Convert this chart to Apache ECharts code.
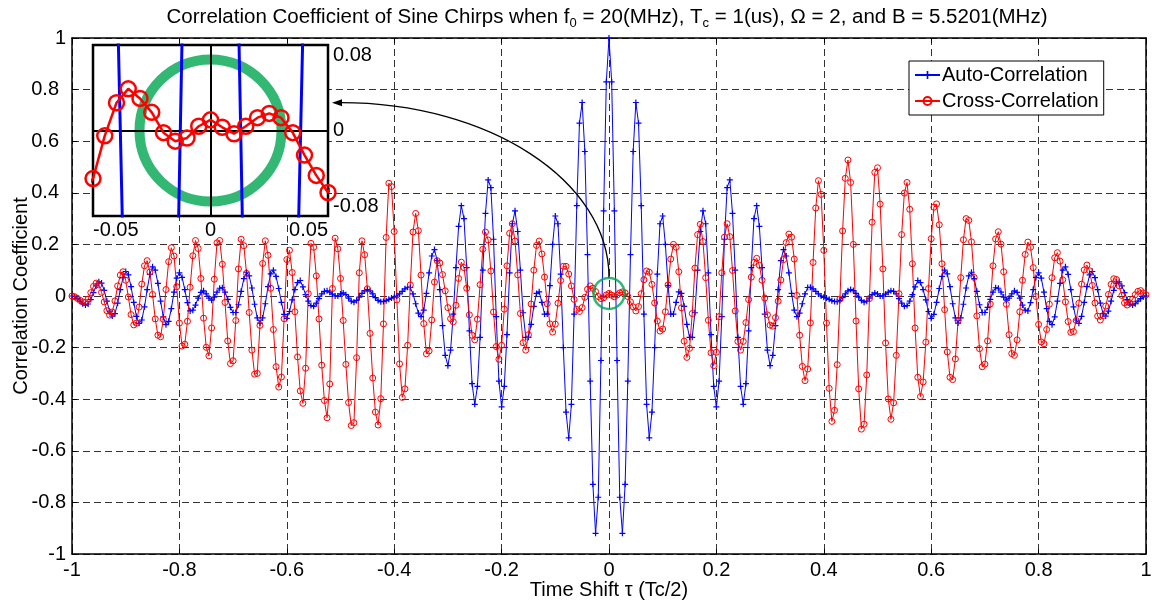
<!DOCTYPE html>
<html>
<head>
<meta charset="utf-8">
<script src="https://cdn.jsdelivr.net/npm/echarts@6/dist/echarts.min.js"></script>
<style>
  html, body { margin: 0; padding: 0; background: #fff; }
  #chart { width: 1152px; height: 602px; }
</style>
</head>
<body>
<div id="chart"></div>
<script>
// sample grid of the time shift axis (Tc/2 units)
const tauStart = -1
const tauStep = 0.005

// blue curve, one row = 10 samples, row start given in the comment
const autoCorr = [
  0.0, -0.003, -0.01, -0.02, -0.03, -0.035, -0.031, -0.014, 0.013, 0.039, // -1.00
  0.055, 0.05, 0.022, -0.02, -0.059, -0.078, -0.068, -0.028, 0.025, 0.071, // -0.95
  0.095, 0.082, 0.036, -0.025, -0.079, -0.106, -0.093, -0.042, 0.025, 0.084, // -0.90
  0.113, 0.10, 0.049, -0.02, -0.081, -0.111, -0.098, -0.049, 0.015, 0.069, // -0.85
  0.09, 0.072, 0.025, -0.026, -0.058, -0.055, -0.035, -0.008, 0.014, 0.02, // -0.80
  0.008, -0.008, -0.016, -0.004, 0.015, 0.03, 0.032, 0.015, -0.013, -0.044, // -0.75
  -0.064, -0.064, -0.034, 0.018, 0.067, 0.092, 0.078, 0.031, -0.032, -0.085, // -0.70
  -0.105, -0.085, -0.03, 0.036, 0.086, 0.10, 0.076, 0.029, -0.025, -0.071, // -0.65
  -0.087, -0.06, -0.015, 0.025, 0.052, 0.06, 0.035, 0.005, -0.02, -0.037, // -0.60
  -0.04, -0.028, -0.01, 0.008, 0.018, 0.02, 0.015, 0.007, 0.0, 0.0, // -0.55
  0.008, 0.012, 0.005, -0.008, -0.02, -0.024, -0.017, -0.004, 0.01, 0.021, // -0.50
  0.025, 0.02, 0.008, -0.006, -0.017, -0.022, -0.021, -0.018, -0.013, -0.008, // -0.45
  -0.005, 0.0, 0.008, 0.018, 0.028, 0.034, 0.033, 0.008, -0.03, -0.066, // -0.40
  -0.08, -0.055, 0.01, 0.09, 0.155, 0.18, 0.137, 0.025, -0.115, -0.23, // -0.35
  -0.27, -0.21, -0.07, 0.11, 0.27, 0.35, 0.30, 0.11, -0.135, -0.34, // -0.30
  -0.42, -0.35, -0.16, 0.10, 0.32, 0.45, 0.42, 0.22, -0.08, -0.33, // -0.25
  -0.43, -0.35, -0.15, 0.09, 0.28, 0.33, 0.25, 0.10, -0.065, -0.16, // -0.20
  -0.16, -0.11, -0.04, 0.01, 0.016, -0.025, -0.07, -0.07, 0.04, 0.20, // -0.15
  0.31, 0.28, 0.085, -0.20, -0.45, -0.55, -0.42, -0.07, 0.35, 0.67, // -0.10
  0.75, 0.56, 0.16, -0.33, -0.73, -0.92, -0.78, -0.25, 0.33, 0.83, // -0.05
  1.00, 0.83, 0.33, -0.25, -0.78, -0.92, -0.73, -0.33, 0.16, 0.56, // 0.00
  0.75, 0.67, 0.35, -0.07, -0.42, -0.55, -0.45, -0.20, 0.085, 0.28, // 0.05
  0.31, 0.20, 0.04, -0.07, -0.07, -0.025, 0.016, 0.01, -0.04, -0.11, // 0.10
  -0.16, -0.16, -0.065, 0.10, 0.25, 0.33, 0.28, 0.09, -0.15, -0.35, // 0.15
  -0.43, -0.33, -0.08, 0.22, 0.42, 0.45, 0.32, 0.10, -0.16, -0.35, // 0.20
  -0.42, -0.34, -0.135, 0.11, 0.30, 0.35, 0.27, 0.11, -0.07, -0.21, // 0.25
  -0.27, -0.23, -0.115, 0.025, 0.137, 0.18, 0.155, 0.09, 0.01, -0.055, // 0.30
  -0.08, -0.066, -0.03, 0.008, 0.033, 0.034, 0.028, 0.018, 0.008, 0.0, // 0.35
  -0.005, -0.008, -0.013, -0.018, -0.021, -0.022, -0.017, -0.006, 0.008, 0.02, // 0.40
  0.025, 0.021, 0.01, -0.004, -0.017, -0.024, -0.02, -0.008, 0.005, 0.012, // 0.45
  0.008, 0.0, 0.0, 0.007, 0.015, 0.02, 0.018, 0.008, -0.01, -0.028, // 0.50
  -0.04, -0.037, -0.02, 0.005, 0.035, 0.06, 0.052, 0.025, -0.015, -0.06, // 0.55
  -0.087, -0.071, -0.025, 0.029, 0.076, 0.10, 0.086, 0.036, -0.03, -0.085, // 0.60
  -0.105, -0.085, -0.032, 0.031, 0.078, 0.092, 0.067, 0.018, -0.034, -0.064, // 0.65
  -0.064, -0.044, -0.013, 0.015, 0.032, 0.03, 0.015, -0.004, -0.016, -0.008, // 0.70
  0.008, 0.02, 0.014, -0.008, -0.035, -0.055, -0.058, -0.026, 0.025, 0.072, // 0.75
  0.09, 0.069, 0.015, -0.049, -0.098, -0.111, -0.081, -0.02, 0.049, 0.10, // 0.80
  0.113, 0.084, 0.025, -0.042, -0.093, -0.106, -0.079, -0.025, 0.036, 0.082, // 0.85
  0.095, 0.071, 0.025, -0.028, -0.068, -0.078, -0.059, -0.02, 0.022, 0.05, // 0.90
  0.055, 0.039, 0.013, -0.014, -0.031, -0.035, -0.03, -0.02, -0.01, -0.003, // 0.95
  0.0 // 1.00
]

// red curve, same sample grid
const crossCorr = [
  0, -0.003, -0.009, -0.017, -0.023, -0.025, -0.012, 0.013, 0.037, 0.05, // -1.00
  0.043, 0.014, -0.023, -0.057, -0.074, -0.062, -0.019, 0.039, 0.081, 0.094, // -0.95
  0.061, -0.004, -0.072, -0.112, -0.105, -0.043, 0.046, 0.117, 0.137, 0.093, // -0.90
  0.006, -0.089, -0.152, -0.158, -0.09, 0.025, 0.133, 0.187, 0.155, 0.036, // -0.85
  -0.105, -0.194, -0.187, -0.098, 0.034, 0.156, 0.215, 0.184, 0.068, -0.086, // -0.80
  -0.199, -0.232, -0.124, 0.065, 0.206, 0.215, 0.123, -0.025, -0.174, -0.262, // -0.75
  -0.251, -0.095, 0.105, 0.22, 0.195, 0.088, -0.064, -0.21, -0.303, -0.30, // -0.70
  -0.114, 0.126, 0.214, 0.158, 0.03, -0.13, -0.274, -0.353, -0.314, -0.088, // -0.65
  0.141, 0.177, 0.091, -0.061, -0.236, -0.368, -0.416, -0.28, 0.009, 0.204, // -0.60
  0.189, 0.078, -0.089, -0.268, -0.405, -0.472, -0.341, 0.029, 0.224, 0.183, // -0.55
  0.068, -0.095, -0.265, -0.413, -0.502, -0.491, -0.239, 0.09, 0.214, 0.16, // -0.50
  0.028, -0.145, -0.318, -0.45, -0.50, -0.398, -0.108, 0.227, 0.437, 0.424, // -0.45
  0.25, -0.015, -0.263, -0.393, -0.36, -0.191, 0.043, 0.248, 0.32, 0.253, // -0.40
  0.081, -0.107, -0.224, -0.213, -0.093, 0.054, 0.137, 0.128, 0.083, 0.02, // -0.35
  -0.045, -0.088, -0.10, -0.036, 0.068, 0.131, 0.11, 0.03, -0.073, -0.152, // -0.30
  -0.17, -0.09, 0.044, 0.181, 0.248, 0.217, 0.097, -0.062, -0.196, -0.245, // -0.25
  -0.191, -0.051, 0.117, 0.243, 0.28, 0.213, 0.082, -0.068, -0.181, -0.21, // -0.20
  -0.15, -0.031, 0.10, 0.196, 0.213, 0.163, 0.073, -0.03, -0.108, -0.14, // -0.15
  -0.109, -0.028, 0.06, 0.115, 0.115, 0.085, 0.039, -0.013, -0.052, -0.06, // -0.10
  -0.045, -0.005, 0.026, 0.039, 0.03, 0.017, -0.002, -0.01, -0.007, 0.004, // -0.05
  0.01, 0.003, -0.003, 0.004, 0.012, 0.016, 0.012, -0.002, -0.023, -0.042, // 0.00
  -0.058, -0.041, 0.009, 0.063, 0.097, 0.092, 0.045, -0.027, -0.097, -0.136, // 0.05
  -0.128, -0.061, 0.043, 0.143, 0.20, 0.189, 0.094, -0.046, -0.175, -0.238, // 0.10
  -0.203, -0.068, 0.108, 0.238, 0.278, 0.211, 0.071, -0.094, -0.22, -0.27, // 0.15
  -0.218, -0.08, 0.09, 0.228, 0.28, 0.23, 0.099, -0.058, -0.176, -0.21, // 0.20
  -0.176, -0.103, -0.014, 0.073, 0.13, 0.146, 0.119, 0.061, -0.008, -0.073, // 0.25
  -0.113, -0.117, -0.084, -0.02, 0.062, 0.141, 0.207, 0.24, 0.228, 0.143, // 0.30
  0.002, -0.152, -0.273, -0.328, -0.283, -0.104, 0.13, 0.341, 0.447, 0.394, // 0.35
  0.177, -0.105, -0.358, -0.486, -0.443, -0.266, -0.012, 0.252, 0.456, 0.527, // 0.40
  0.44, 0.20, -0.097, -0.36, -0.516, -0.497, -0.306, -0.01, 0.286, 0.479, // 0.45
  0.497, 0.356, 0.105, -0.182, -0.399, -0.478, -0.414, -0.23, 0.009, 0.238, // 0.50
  0.399, 0.44, 0.336, 0.125, -0.124, -0.315, -0.39, -0.333, -0.179, 0.029, // 0.55
  0.222, 0.344, 0.357, 0.276, 0.125, -0.053, -0.217, -0.315, -0.324, -0.244, // 0.60
  -0.096, 0.071, 0.218, 0.30, 0.293, 0.21, 0.072, -0.077, -0.204, -0.274, // 0.65
  -0.264, -0.174, -0.031, 0.117, 0.221, 0.249, 0.201, 0.094, -0.032, -0.15, // 0.70
  -0.223, -0.23, -0.17, -0.061, 0.061, 0.161, 0.209, 0.189, 0.11, -0.002, // 0.75
  -0.11, -0.178, -0.185, -0.13, -0.032, 0.071, 0.148, 0.168, 0.135, 0.063, // 0.80
  -0.023, -0.099, -0.141, -0.138, -0.095, -0.028, 0.046, 0.101, 0.12, 0.098, // 0.85
  0.041, -0.027, -0.078, -0.093, -0.076, -0.039, 0.006, 0.045, 0.067, 0.064, // 0.90
  0.039, 0.002, -0.027, -0.035, -0.027, -0.012, 0.005, 0.018, 0.021, 0.012, // 0.95
  0.005 // 1.00
]

// zoom marks: small ring on the main plot and its enlarged copy in the inset
const ringMain = [[0, 0.01]]
const ringInset = [[0, 0]]

const font = '"Liberation Sans", Arial, Helvetica, sans-serif'
const plusPath = 'path://M4,0H6V4H10V6H6V10H4V6H0V4H4Z'
const green = '#00a651'

const tau = autoCorr.map((v, i) => +(tauStart + i * tauStep).toFixed(3))
const autoData = autoCorr.map((v, i) => [tau[i], v])
const crossData = crossCorr.map((v, i) => [tau[i], v])

const chart = echarts.init(document.getElementById('chart'))

const gridLine = { show: true, lineStyle: { color: '#333', type: [7, 4], width: 1 } }
const tickIn = { show: true, inside: true, length: 5, lineStyle: { color: '#000' } }
const blackLine = { show: true, onZero: false, lineStyle: { color: '#000', width: 1.5 } }

// positive decimal labels sit a little further from the axis in the original
function yLabel (v) {
  const s = String(+v.toFixed(2))
  return (v > 0 && v < 1) ? '{p|' + s + '}' : s
}

const option = {
  animation: false,
  backgroundColor: '#fff',
  textStyle: { fontFamily: font },
  title: {
    text: 'Correlation Coefficient of Sine Chirps when f{sub|0} = 20(MHz), T{sub|c} = 1(us), Ω = 2, and B = 5.5201(MHz)',
    left: 602,
    top: -1,
    textAlign: 'center',
    textStyle: {
      fontFamily: font,
      fontSize: 20.5,
      fontWeight: 'normal',
      color: '#000',
      lineHeight: 26,
      rich: {
        sub: { fontFamily: font, fontSize: 13, color: '#000', verticalAlign: 'bottom', lineHeight: 13 }
      }
    }
  },
  legend: {
    data: ['Auto-Correlation', 'Cross-Correlation'],
    orient: 'vertical',
    left: 909,
    top: 61,
    backgroundColor: '#fff',
    borderColor: '#000',
    borderWidth: 1,
    borderRadius: 0,
    padding: [4, 5, 4, 5],
    itemGap: 6,
    itemWidth: 25,
    itemHeight: 10,
    textStyle: { fontFamily: font, fontSize: 20, color: '#000', padding: [0, 0, 0, -3] },
    z: 10
  },
  grid: [
    { left: 72, right: 6, top: 38, bottom: 48, outerBoundsMode: 'none' },
    { left: 93, top: 45, width: 235, height: 171, outerBoundsMode: 'none', show: true, backgroundColor: '#fff', borderColor: '#000', borderWidth: 2.5, z: 3 }
  ],
  xAxis: [
    {
      type: 'value', gridIndex: 0, min: -1, max: 1, interval: 0.2, position: 'bottom',
      name: 'Time Shift τ (Tc/2)', nameLocation: 'middle', nameGap: 26, nameMoveOverlap: false,
      nameTextStyle: { fontFamily: font, fontSize: 20, color: '#000' },
      axisLine: blackLine, axisTick: tickIn,
      axisLabel: { color: '#000', fontSize: 20, margin: 6 },
      splitLine: gridLine
    },
    {
      type: 'value', gridIndex: 0, min: -1, max: 1, interval: 0.2, position: 'top',
      axisLine: blackLine, axisTick: tickIn, axisLabel: { show: false }, splitLine: { show: false }
    },
    {
      type: 'value', gridIndex: 1, min: -0.05, max: 0.05, interval: 0.05, position: 'bottom', z: 5,
      axisLine: { show: false, onZero: false }, axisTick: { show: false },
      axisLabel: { color: '#000', fontSize: 20, margin: 4, alignMinLabel: 'left', alignMaxLabel: 'right' },
      splitLine: { show: true, lineStyle: { color: '#000', width: 2 } }
    }
  ],
  yAxis: [
    {
      type: 'value', gridIndex: 0, min: -1, max: 1, interval: 0.2, position: 'left',
      name: 'Correlation Coefficient', nameLocation: 'middle', nameGap: 41, nameMoveOverlap: false,
      nameTextStyle: { fontFamily: font, fontSize: 20, color: '#000' },
      axisLine: blackLine, axisTick: tickIn,
      axisLabel: {
        color: '#000', fontSize: 20, margin: 6, formatter: yLabel,
        rich: { p: { fontFamily: font, fontSize: 20, color: '#000', padding: [0, 7, 0, 0] } }
      },
      splitLine: gridLine
    },
    {
      type: 'value', gridIndex: 0, min: -1, max: 1, interval: 0.2, position: 'right',
      axisLine: blackLine, axisTick: tickIn, axisLabel: { show: false }, splitLine: { show: false }
    },
    {
      type: 'value', gridIndex: 1, min: -0.08, max: 0.08, interval: 0.08, position: 'right', z: 5,
      axisLine: { show: false, onZero: false }, axisTick: { show: false },
      axisLabel: { color: '#000', fontSize: 20, margin: 5, verticalAlignMinLabel: 'bottom', verticalAlignMaxLabel: 'top' },
      splitLine: { show: true, lineStyle: { color: '#000', width: 2 } }
    }
  ],
  series: [
    {
      name: 'Auto-Correlation', type: 'line', xAxisIndex: 0, yAxisIndex: 0, data: autoData,
      symbol: plusPath, symbolSize: 6, showAllSymbol: true,
      lineStyle: { color: '#0000ff', width: 1 }, itemStyle: { color: '#0000ff' }, z: 2
    },
    {
      name: 'Cross-Correlation', type: 'line', xAxisIndex: 0, yAxisIndex: 0, data: crossData,
      symbol: 'circle', symbolSize: 6, showAllSymbol: true,
      lineStyle: { color: '#ff0000', width: 1 },
      itemStyle: { color: 'rgba(255,0,0,0)', borderColor: '#ff0000', borderWidth: 1 }, z: 2
    },
    {
      name: 'ringMain', type: 'scatter', xAxisIndex: 0, yAxisIndex: 0, data: ringMain,
      symbol: 'circle', symbolSize: 31, silent: true,
      itemStyle: { color: 'rgba(0,0,0,0)', borderColor: green, borderWidth: 2.5 }, z: 3
    },
    {
      name: 'ringInset', type: 'scatter', xAxisIndex: 2, yAxisIndex: 2, data: ringInset,
      symbol: 'circle', symbolSize: 142, silent: true,
      itemStyle: { color: 'rgba(0,0,0,0)', borderColor: green, borderWidth: 10 }, z: 4
    },
    {
      name: 'autoInset', type: 'line', xAxisIndex: 2, yAxisIndex: 2, data: autoData, clip: true,
      symbol: plusPath, symbolSize: 14, showAllSymbol: true,
      lineStyle: { color: '#0000ff', width: 3 }, itemStyle: { color: '#0000ff' }, z: 6
    },
    {
      name: 'crossInset', type: 'line', xAxisIndex: 2, yAxisIndex: 2, data: crossData, clip: true,
      symbol: 'circle', symbolSize: 15, showAllSymbol: true,
      lineStyle: { color: '#ff0000', width: 2.5 },
      itemStyle: { color: 'rgba(255,0,0,0)', borderColor: '#ff0000', borderWidth: 2.5 }, z: 7
    }
  ]
}

chart.setOption(option)

// curved arrow from the small ring to the inset, placed through the axes
const ringPx = chart.convertToPixel({ gridIndex: 0 }, ringMain[0])
const tip = chart.convertToPixel({ gridIndex: 1 }, [0.05, 0.026])
tip[0] += 4
const start = [ringPx[0], ringPx[1] - 16]
const end = [tip[0] + 9, tip[1]]
const ka = 0.5523
const a = start[0] - end[0]
const b = start[1] - end[1]
chart.setOption({
  graphic: [
    {
      type: 'bezierCurve', z: 20, silent: true,
      shape: { x1: start[0], y1: start[1], cpx1: start[0], cpy1: start[1] - ka * b, cpx2: end[0] + ka * a, cpy2: end[1], x2: end[0], y2: end[1] },
      style: { stroke: '#000', lineWidth: 1.3, fill: null }
    },
    {
      type: 'polygon', z: 20, silent: true,
      shape: { points: [[tip[0], tip[1]], [tip[0] + 10, tip[1] - 3.5], [tip[0] + 10, tip[1] + 3.5]] },
      style: { fill: '#000' }
    }
  ]
})
</script>
</body>
</html>
